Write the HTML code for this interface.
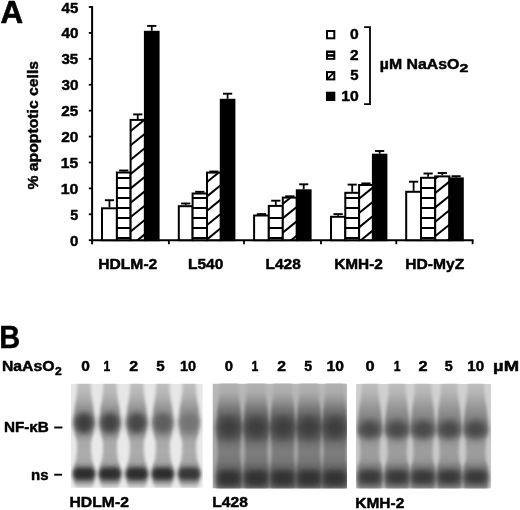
<!DOCTYPE html>
<html><head><meta charset="utf-8"><style>
html,body{margin:0;padding:0;background:#fff;}
body{width:520px;height:510px;overflow:hidden;}
svg{display:block;will-change:transform;}
text{font-family:"Liberation Sans",sans-serif;font-weight:bold;fill:#000;stroke:#000;stroke-width:0.45px;stroke-linejoin:round;}
</style></head><body>
<svg width="520" height="510" viewBox="0 0 520 510">
<defs><clipPath id="c0"><rect x="130.6" y="119.9" width="14.30" height="120.30"/></clipPath><clipPath id="c1"><rect x="207.0" y="172.6" width="13.80" height="67.60"/></clipPath><clipPath id="c2"><rect x="282.8" y="197.6" width="14.00" height="42.60"/></clipPath><clipPath id="c3"><rect x="359.1" y="185.0" width="13.80" height="55.20"/></clipPath><clipPath id="c4"><rect x="435.2" y="176.4" width="14.20" height="63.80"/></clipPath><clipPath id="g0"><rect x="70.7" y="383.8" width="132.10" height="104.00"/></clipPath><linearGradient id="bg0" gradientUnits="userSpaceOnUse" x1="0" y1="383" x2="0" y2="488"><stop offset="0.0000" stop-color="#e6e6e6"/><stop offset="1.0000" stop-color="#eaeaea"/></linearGradient><linearGradient id="sg0" gradientUnits="userSpaceOnUse" x1="0" y1="380" x2="0" y2="494"><stop offset="0.0000" stop-color="#c0c0c0"/><stop offset="0.1053" stop-color="#b8b8b8"/><stop offset="0.1754" stop-color="#aaaaaa"/><stop offset="0.2456" stop-color="#969696"/><stop offset="0.3684" stop-color="#8c8c8c"/><stop offset="0.4737" stop-color="#969696"/><stop offset="0.5439" stop-color="#a8a8a8"/><stop offset="0.6316" stop-color="#acacac"/><stop offset="0.7018" stop-color="#a8a8a8"/><stop offset="0.7544" stop-color="#969696"/><stop offset="0.8947" stop-color="#969696"/><stop offset="0.9474" stop-color="#d7d7d7"/><stop offset="1.0000" stop-color="#eaeaea"/></linearGradient><filter id="f1_80" x="-60%" y="-60%" width="220%" height="220%"><feGaussianBlur stdDeviation="1.8"/></filter><filter id="f3_40" x="-60%" y="-60%" width="220%" height="220%"><feGaussianBlur stdDeviation="3.4"/></filter><filter id="f2_20" x="-60%" y="-60%" width="220%" height="220%"><feGaussianBlur stdDeviation="2.2"/></filter><clipPath id="g1"><rect x="212.5" y="383.6" width="134.50" height="104.80"/></clipPath><linearGradient id="bg1" gradientUnits="userSpaceOnUse" x1="0" y1="383" x2="0" y2="488"><stop offset="0.0000" stop-color="#bababa"/><stop offset="0.3524" stop-color="#b0b0b0"/><stop offset="0.5905" stop-color="#a8a8a8"/><stop offset="0.8286" stop-color="#a5a5a5"/><stop offset="1.0000" stop-color="#afafaf"/></linearGradient><linearGradient id="sg1" gradientUnits="userSpaceOnUse" x1="0" y1="380" x2="0" y2="498"><stop offset="0.0000" stop-color="#b2b2b2"/><stop offset="0.1017" stop-color="#acacac"/><stop offset="0.1695" stop-color="#969696"/><stop offset="0.2373" stop-color="#7a7a7a"/><stop offset="0.3051" stop-color="#666666"/><stop offset="0.4068" stop-color="#606060"/><stop offset="0.4915" stop-color="#646464"/><stop offset="0.5424" stop-color="#747474"/><stop offset="0.6102" stop-color="#7c7c7c"/><stop offset="0.6780" stop-color="#787878"/><stop offset="0.7288" stop-color="#6c6c6c"/><stop offset="0.8983" stop-color="#686868"/><stop offset="0.9492" stop-color="#969696"/><stop offset="1.0000" stop-color="#afafaf"/></linearGradient><filter id="f4_00" x="-60%" y="-60%" width="220%" height="220%"><feGaussianBlur stdDeviation="4.0"/></filter><filter id="f3_00" x="-60%" y="-60%" width="220%" height="220%"><feGaussianBlur stdDeviation="3.0"/></filter><clipPath id="g2"><rect x="356.0" y="383.8" width="135.20" height="104.60"/></clipPath><linearGradient id="bg2" gradientUnits="userSpaceOnUse" x1="0" y1="383" x2="0" y2="488"><stop offset="0.0000" stop-color="#d2d2d2"/><stop offset="0.3524" stop-color="#cccccc"/><stop offset="0.6381" stop-color="#c8c8c8"/><stop offset="1.0000" stop-color="#cdcdcd"/></linearGradient><linearGradient id="sg2" gradientUnits="userSpaceOnUse" x1="0" y1="380" x2="0" y2="498"><stop offset="0.0000" stop-color="#bebebe"/><stop offset="0.1017" stop-color="#b6b6b6"/><stop offset="0.1695" stop-color="#a6a6a6"/><stop offset="0.2542" stop-color="#919191"/><stop offset="0.3390" stop-color="#848484"/><stop offset="0.4407" stop-color="#828282"/><stop offset="0.5085" stop-color="#969696"/><stop offset="0.6102" stop-color="#9e9e9e"/><stop offset="0.6780" stop-color="#989898"/><stop offset="0.7288" stop-color="#848484"/><stop offset="0.8983" stop-color="#808080"/><stop offset="0.9492" stop-color="#aaaaaa"/><stop offset="1.0000" stop-color="#cdcdcd"/></linearGradient><filter id="f3_80" x="-60%" y="-60%" width="220%" height="220%"><feGaussianBlur stdDeviation="3.8"/></filter></defs>
<rect width="520" height="510" fill="#fff"/>
<g clip-path="url(#g0)"><rect x="70.7" y="383.8" width="132.10" height="104.00" fill="url(#bg0)"/><polygon points="77.50,380 77.00,392 76.00,400 74.50,408 74.00,422 75.00,434 77.00,442 77.00,452 76.00,460 74.00,466 74.00,482 76.00,488 77.00,494 91.00,494 92.00,488 94.00,482 94.00,466 92.00,460 91.00,452 91.00,442 93.00,434 94.00,422 93.50,408 92.00,400 91.00,392 90.50,380" fill="url(#sg0)" filter="url(#f1_80)"/><polygon points="103.50,380 103.00,392 102.00,400 100.50,408 100.00,422 101.00,434 103.00,442 103.00,452 102.00,460 100.00,466 100.00,482 102.00,488 103.00,494 117.00,494 118.00,488 120.00,482 120.00,466 118.00,460 117.00,452 117.00,442 119.00,434 120.00,422 119.50,408 118.00,400 117.00,392 116.50,380" fill="url(#sg0)" filter="url(#f1_80)"/><polygon points="130.30,380 129.80,392 128.80,400 127.30,408 126.80,422 127.80,434 129.80,442 129.80,452 128.80,460 126.80,466 126.80,482 128.80,488 129.80,494 143.80,494 144.80,488 146.80,482 146.80,466 144.80,460 143.80,452 143.80,442 145.80,434 146.80,422 146.30,408 144.80,400 143.80,392 143.30,380" fill="url(#sg0)" filter="url(#f1_80)"/><polygon points="156.30,380 155.80,392 154.80,400 153.30,408 152.80,422 153.80,434 155.80,442 155.80,452 154.80,460 152.80,466 152.80,482 154.80,488 155.80,494 169.80,494 170.80,488 172.80,482 172.80,466 170.80,460 169.80,452 169.80,442 171.80,434 172.80,422 172.30,408 170.80,400 169.80,392 169.30,380" fill="url(#sg0)" filter="url(#f1_80)"/><polygon points="182.70,380 182.20,392 181.20,400 179.70,408 179.20,422 180.20,434 182.20,442 182.20,452 181.20,460 179.20,466 179.20,482 181.20,488 182.20,494 196.20,494 197.20,488 199.20,482 199.20,466 197.20,460 196.20,452 196.20,442 198.20,434 199.20,422 198.70,408 197.20,400 196.20,392 195.70,380" fill="url(#sg0)" filter="url(#f1_80)"/><ellipse cx="84.00" cy="423.0" rx="10.0" ry="10.5" fill="#3e3e3e" filter="url(#f3_40)"/><ellipse cx="110.00" cy="423.0" rx="10.0" ry="10.5" fill="#434343" filter="url(#f3_40)"/><ellipse cx="136.80" cy="423.0" rx="10.0" ry="10.5" fill="#464646" filter="url(#f3_40)"/><ellipse cx="162.80" cy="423.0" rx="10.0" ry="10.5" fill="#5d5d5d" filter="url(#f3_40)"/><ellipse cx="189.20" cy="423.0" rx="10.0" ry="10.5" fill="#747474" filter="url(#f3_40)"/><rect x="72.75" y="467.55" width="22.5" height="12.5" rx="5.5" fill="#2e2e2e" filter="url(#f2_20)"/><rect x="98.75" y="467.55" width="22.5" height="12.5" rx="5.5" fill="#2e2e2e" filter="url(#f2_20)"/><rect x="125.55" y="467.55" width="22.5" height="12.5" rx="5.5" fill="#2e2e2e" filter="url(#f2_20)"/><rect x="151.55" y="467.55" width="22.5" height="12.5" rx="5.5" fill="#2e2e2e" filter="url(#f2_20)"/><rect x="177.95" y="467.55" width="22.5" height="12.5" rx="5.5" fill="#373737" filter="url(#f2_20)"/></g><g clip-path="url(#g1)"><rect x="212.5" y="383.6" width="134.50" height="104.80" fill="url(#bg1)"/><polygon points="220.00,380 219.50,392 218.50,400 217.50,408 217.00,416 216.50,428 217.00,438 217.50,444 218.00,452 217.50,460 216.50,466 216.00,486 217.00,492 218.00,498 240.00,498 241.00,492 242.00,486 241.50,466 240.50,460 240.00,452 240.50,444 241.00,438 241.50,428 241.00,416 240.50,408 239.50,400 238.50,392 238.00,380" fill="url(#sg1)" filter="url(#f1_80)"/><polygon points="247.20,380 246.70,392 245.70,400 244.70,408 244.20,416 243.70,428 244.20,438 244.70,444 245.20,452 244.70,460 243.70,466 243.20,486 244.20,492 245.20,498 267.20,498 268.20,492 269.20,486 268.70,466 267.70,460 267.20,452 267.70,444 268.20,438 268.70,428 268.20,416 267.70,408 266.70,400 265.70,392 265.20,380" fill="url(#sg1)" filter="url(#f1_80)"/><polygon points="273.80,380 273.30,392 272.30,400 271.30,408 270.80,416 270.30,428 270.80,438 271.30,444 271.80,452 271.30,460 270.30,466 269.80,486 270.80,492 271.80,498 293.80,498 294.80,492 295.80,486 295.30,466 294.30,460 293.80,452 294.30,444 294.80,438 295.30,428 294.80,416 294.30,408 293.30,400 292.30,392 291.80,380" fill="url(#sg1)" filter="url(#f1_80)"/><polygon points="300.00,380 299.50,392 298.50,400 297.50,408 297.00,416 296.50,428 297.00,438 297.50,444 298.00,452 297.50,460 296.50,466 296.00,486 297.00,492 298.00,498 320.00,498 321.00,492 322.00,486 321.50,466 320.50,460 320.00,452 320.50,444 321.00,438 321.50,428 321.00,416 320.50,408 319.50,400 318.50,392 318.00,380" fill="url(#sg1)" filter="url(#f1_80)"/><polygon points="325.80,380 325.30,392 324.30,400 323.30,408 322.80,416 322.30,428 322.80,438 323.30,444 323.80,452 323.30,460 322.30,466 321.80,486 322.80,492 323.80,498 345.80,498 346.80,492 347.80,486 347.30,466 346.30,460 345.80,452 346.30,444 346.80,438 347.30,428 346.80,416 346.30,408 345.30,400 344.30,392 343.80,380" fill="url(#sg1)" filter="url(#f1_80)"/><ellipse cx="229.00" cy="427.5" rx="11.5" ry="11.0" fill="#3e3e3e" filter="url(#f4_00)"/><ellipse cx="256.20" cy="427.5" rx="11.5" ry="11.0" fill="#3e3e3e" filter="url(#f4_00)"/><ellipse cx="282.80" cy="427.5" rx="11.5" ry="11.0" fill="#3e3e3e" filter="url(#f4_00)"/><ellipse cx="309.00" cy="427.5" rx="11.5" ry="11.0" fill="#3e3e3e" filter="url(#f4_00)"/><ellipse cx="334.80" cy="427.5" rx="11.5" ry="11.0" fill="#3e3e3e" filter="url(#f4_00)"/><rect x="217.00" y="470.00" width="24.0" height="16.0" rx="5.5" fill="#323232" filter="url(#f3_00)"/><rect x="244.20" y="470.00" width="24.0" height="16.0" rx="5.5" fill="#323232" filter="url(#f3_00)"/><rect x="270.80" y="470.00" width="24.0" height="16.0" rx="5.5" fill="#323232" filter="url(#f3_00)"/><rect x="297.00" y="470.00" width="24.0" height="16.0" rx="5.5" fill="#323232" filter="url(#f3_00)"/><rect x="322.80" y="470.00" width="24.0" height="16.0" rx="5.5" fill="#323232" filter="url(#f3_00)"/></g><g clip-path="url(#g2)"><rect x="356.0" y="383.8" width="135.20" height="104.60" fill="url(#bg2)"/><polygon points="361.80,380 361.30,392 360.30,400 358.80,410 357.80,420 358.00,432 359.80,440 360.30,452 359.80,460 357.80,466 357.30,486 358.80,492 359.80,498 379.80,498 380.80,492 382.30,486 381.80,466 379.80,460 379.30,452 379.80,440 381.60,432 381.80,420 380.80,410 379.30,400 378.30,392 377.80,380" fill="url(#sg2)" filter="url(#f1_80)"/><polygon points="389.20,380 388.70,392 387.70,400 386.20,410 385.20,420 385.40,432 387.20,440 387.70,452 387.20,460 385.20,466 384.70,486 386.20,492 387.20,498 407.20,498 408.20,492 409.70,486 409.20,466 407.20,460 406.70,452 407.20,440 409.00,432 409.20,420 408.20,410 406.70,400 405.70,392 405.20,380" fill="url(#sg2)" filter="url(#f1_80)"/><polygon points="415.00,380 414.50,392 413.50,400 412.00,410 411.00,420 411.20,432 413.00,440 413.50,452 413.00,460 411.00,466 410.50,486 412.00,492 413.00,498 433.00,498 434.00,492 435.50,486 435.00,466 433.00,460 432.50,452 433.00,440 434.80,432 435.00,420 434.00,410 432.50,400 431.50,392 431.00,380" fill="url(#sg2)" filter="url(#f1_80)"/><polygon points="441.20,380 440.70,392 439.70,400 438.20,410 437.20,420 437.40,432 439.20,440 439.70,452 439.20,460 437.20,466 436.70,486 438.20,492 439.20,498 459.20,498 460.20,492 461.70,486 461.20,466 459.20,460 458.70,452 459.20,440 461.00,432 461.20,420 460.20,410 458.70,400 457.70,392 457.20,380" fill="url(#sg2)" filter="url(#f1_80)"/><polygon points="467.80,380 467.30,392 466.30,400 464.80,410 463.80,420 464.00,432 465.80,440 466.30,452 465.80,460 463.80,466 463.30,486 464.80,492 465.80,498 485.80,498 486.80,492 488.30,486 487.80,466 485.80,460 485.30,452 485.80,440 487.60,432 487.80,420 486.80,410 485.30,400 484.30,392 483.80,380" fill="url(#sg2)" filter="url(#f1_80)"/><ellipse cx="369.80" cy="429.5" rx="11.5" ry="9.5" fill="#484848" filter="url(#f3_80)"/><ellipse cx="397.20" cy="429.5" rx="11.5" ry="9.5" fill="#484848" filter="url(#f3_80)"/><ellipse cx="423.00" cy="429.5" rx="11.5" ry="9.5" fill="#484848" filter="url(#f3_80)"/><ellipse cx="449.20" cy="429.5" rx="11.5" ry="9.5" fill="#484848" filter="url(#f3_80)"/><ellipse cx="475.80" cy="429.5" rx="11.5" ry="9.5" fill="#484848" filter="url(#f3_80)"/><rect x="357.80" y="469.50" width="24.0" height="15.0" rx="5.5" fill="#383838" filter="url(#f3_00)"/><rect x="385.20" y="469.50" width="24.0" height="15.0" rx="5.5" fill="#383838" filter="url(#f3_00)"/><rect x="411.00" y="469.50" width="24.0" height="15.0" rx="5.5" fill="#383838" filter="url(#f3_00)"/><rect x="437.20" y="469.50" width="24.0" height="15.0" rx="5.5" fill="#383838" filter="url(#f3_00)"/><rect x="463.80" y="469.50" width="24.0" height="15.0" rx="5.5" fill="#383838" filter="url(#f3_00)"/></g>
<line x1="92.1" y1="6.0" x2="92.1" y2="244.3" stroke="#000" stroke-width="2"/><line x1="88.8" y1="240.20" x2="92.1" y2="240.20" stroke="#000" stroke-width="1.8"/><line x1="88.8" y1="214.29" x2="92.1" y2="214.29" stroke="#000" stroke-width="1.8"/><line x1="88.8" y1="188.38" x2="92.1" y2="188.38" stroke="#000" stroke-width="1.8"/><line x1="88.8" y1="162.47" x2="92.1" y2="162.47" stroke="#000" stroke-width="1.8"/><line x1="88.8" y1="136.56" x2="92.1" y2="136.56" stroke="#000" stroke-width="1.8"/><line x1="88.8" y1="110.65" x2="92.1" y2="110.65" stroke="#000" stroke-width="1.8"/><line x1="88.8" y1="84.74" x2="92.1" y2="84.74" stroke="#000" stroke-width="1.8"/><line x1="88.8" y1="58.83" x2="92.1" y2="58.83" stroke="#000" stroke-width="1.8"/><line x1="88.8" y1="32.92" x2="92.1" y2="32.92" stroke="#000" stroke-width="1.8"/><line x1="88.8" y1="7.01" x2="92.1" y2="7.01" stroke="#000" stroke-width="1.8"/><line x1="91.3" y1="240.2" x2="473.6" y2="240.2" stroke="#000" stroke-width="2"/><line x1="168.85" y1="240.2" x2="168.85" y2="244.2" stroke="#000" stroke-width="1.8"/><line x1="244.0" y1="240.2" x2="244.0" y2="244.2" stroke="#000" stroke-width="1.8"/><line x1="321.0" y1="240.2" x2="321.0" y2="244.2" stroke="#000" stroke-width="1.8"/><line x1="396.3" y1="240.2" x2="396.3" y2="244.2" stroke="#000" stroke-width="1.8"/><line x1="472.6" y1="240.2" x2="472.6" y2="244.2" stroke="#000" stroke-width="1.8"/><rect x="102.0" y="208.3" width="14.90" height="31.90" fill="#fff" stroke="#000" stroke-width="2"/><rect x="116.9" y="172.5" width="13.70" height="67.70" fill="#fff" stroke="#000" stroke-width="2"/><line x1="116.9" y1="238.0" x2="130.6" y2="238.0" stroke="#000" stroke-width="2"/><line x1="116.9" y1="228.0" x2="130.6" y2="228.0" stroke="#000" stroke-width="2"/><line x1="116.9" y1="218.0" x2="130.6" y2="218.0" stroke="#000" stroke-width="2"/><line x1="116.9" y1="208.0" x2="130.6" y2="208.0" stroke="#000" stroke-width="2"/><line x1="116.9" y1="198.0" x2="130.6" y2="198.0" stroke="#000" stroke-width="2"/><line x1="116.9" y1="188.0" x2="130.6" y2="188.0" stroke="#000" stroke-width="2"/><line x1="116.9" y1="178.0" x2="130.6" y2="178.0" stroke="#000" stroke-width="2"/><rect x="130.6" y="119.9" width="14.30" height="120.30" fill="#fff"/><g clip-path="url(#c0)" stroke="#000" stroke-width="2"><line x1="127.6" y1="104.73" x2="147.9" y2="88.29"/><line x1="127.6" y1="119.08" x2="147.9" y2="102.64"/><line x1="127.6" y1="133.43" x2="147.9" y2="116.99"/><line x1="127.6" y1="147.78" x2="147.9" y2="131.34"/><line x1="127.6" y1="162.13" x2="147.9" y2="145.69"/><line x1="127.6" y1="176.48" x2="147.9" y2="160.04"/><line x1="127.6" y1="190.83" x2="147.9" y2="174.39"/><line x1="127.6" y1="205.18" x2="147.9" y2="188.74"/><line x1="127.6" y1="219.53" x2="147.9" y2="203.09"/><line x1="127.6" y1="233.88" x2="147.9" y2="217.44"/><line x1="127.6" y1="248.23" x2="147.9" y2="231.79"/></g><rect x="130.6" y="119.9" width="14.30" height="120.30" fill="none" stroke="#000" stroke-width="2"/><rect x="144.9" y="31.8" width="13.70" height="208.40" fill="#000" stroke="#000" stroke-width="2"/><line x1="109.45" y1="207.30" x2="109.45" y2="200.20" stroke="#000" stroke-width="1.8"/><line x1="104.85" y1="200.20" x2="114.05" y2="200.20" stroke="#000" stroke-width="1.9"/><line x1="123.75" y1="171.50" x2="123.75" y2="170.50" stroke="#000" stroke-width="1.8"/><line x1="119.15" y1="170.50" x2="128.35" y2="170.50" stroke="#000" stroke-width="1.9"/><line x1="137.75" y1="118.90" x2="137.75" y2="114.40" stroke="#000" stroke-width="1.8"/><line x1="133.15" y1="114.40" x2="142.35" y2="114.40" stroke="#000" stroke-width="1.9"/><line x1="151.75" y1="30.80" x2="151.75" y2="25.90" stroke="#000" stroke-width="1.8"/><line x1="147.15" y1="25.90" x2="156.35" y2="25.90" stroke="#000" stroke-width="1.9"/><rect x="178.8" y="206.2" width="13.80" height="34.00" fill="#fff" stroke="#000" stroke-width="2"/><rect x="192.6" y="193.5" width="14.40" height="46.70" fill="#fff" stroke="#000" stroke-width="2"/><line x1="192.6" y1="238.0" x2="207.0" y2="238.0" stroke="#000" stroke-width="2"/><line x1="192.6" y1="228.0" x2="207.0" y2="228.0" stroke="#000" stroke-width="2"/><line x1="192.6" y1="218.0" x2="207.0" y2="218.0" stroke="#000" stroke-width="2"/><line x1="192.6" y1="208.0" x2="207.0" y2="208.0" stroke="#000" stroke-width="2"/><line x1="192.6" y1="198.0" x2="207.0" y2="198.0" stroke="#000" stroke-width="2"/><rect x="207.0" y="172.6" width="13.80" height="67.60" fill="#fff"/><g clip-path="url(#c1)" stroke="#000" stroke-width="2"><line x1="204.0" y1="155.73" x2="223.8" y2="139.69"/><line x1="204.0" y1="170.08" x2="223.8" y2="154.04"/><line x1="204.0" y1="184.43" x2="223.8" y2="168.39"/><line x1="204.0" y1="198.78" x2="223.8" y2="182.74"/><line x1="204.0" y1="213.13" x2="223.8" y2="197.09"/><line x1="204.0" y1="227.48" x2="223.8" y2="211.44"/><line x1="204.0" y1="241.83" x2="223.8" y2="225.79"/><line x1="204.0" y1="256.18" x2="223.8" y2="240.14"/></g><rect x="207.0" y="172.6" width="13.80" height="67.60" fill="none" stroke="#000" stroke-width="2"/><rect x="220.8" y="99.8" width="13.60" height="140.40" fill="#000" stroke="#000" stroke-width="2"/><line x1="185.70" y1="205.20" x2="185.70" y2="203.50" stroke="#000" stroke-width="1.8"/><line x1="181.10" y1="203.50" x2="190.30" y2="203.50" stroke="#000" stroke-width="1.9"/><line x1="199.80" y1="192.50" x2="199.80" y2="191.80" stroke="#000" stroke-width="1.8"/><line x1="195.20" y1="191.80" x2="204.40" y2="191.80" stroke="#000" stroke-width="1.9"/><line x1="209.30" y1="171.50" x2="218.50" y2="171.50" stroke="#000" stroke-width="1.9"/><line x1="227.60" y1="98.80" x2="227.60" y2="93.70" stroke="#000" stroke-width="1.8"/><line x1="223.00" y1="93.70" x2="232.20" y2="93.70" stroke="#000" stroke-width="1.9"/><rect x="254.1" y="215.5" width="14.70" height="24.70" fill="#fff" stroke="#000" stroke-width="2"/><rect x="268.8" y="205.9" width="14.00" height="34.30" fill="#fff" stroke="#000" stroke-width="2"/><line x1="268.8" y1="238.0" x2="282.8" y2="238.0" stroke="#000" stroke-width="2"/><line x1="268.8" y1="228.0" x2="282.8" y2="228.0" stroke="#000" stroke-width="2"/><line x1="268.8" y1="218.0" x2="282.8" y2="218.0" stroke="#000" stroke-width="2"/><rect x="282.8" y="197.6" width="14.00" height="42.60" fill="#fff"/><g clip-path="url(#c2)" stroke="#000" stroke-width="2"><line x1="279.8" y1="191.98" x2="299.8" y2="175.78"/><line x1="279.8" y1="206.33" x2="299.8" y2="190.13"/><line x1="279.8" y1="220.68" x2="299.8" y2="204.48"/><line x1="279.8" y1="235.03" x2="299.8" y2="218.83"/><line x1="279.8" y1="249.38" x2="299.8" y2="233.18"/></g><rect x="282.8" y="197.6" width="14.00" height="42.60" fill="none" stroke="#000" stroke-width="2"/><rect x="296.8" y="190.3" width="13.80" height="49.90" fill="#000" stroke="#000" stroke-width="2"/><line x1="256.85" y1="214.10" x2="266.05" y2="214.10" stroke="#000" stroke-width="1.9"/><line x1="275.80" y1="204.90" x2="275.80" y2="200.70" stroke="#000" stroke-width="1.8"/><line x1="271.20" y1="200.70" x2="280.40" y2="200.70" stroke="#000" stroke-width="1.9"/><line x1="285.20" y1="196.30" x2="294.40" y2="196.30" stroke="#000" stroke-width="1.9"/><line x1="303.70" y1="189.30" x2="303.70" y2="184.30" stroke="#000" stroke-width="1.8"/><line x1="299.10" y1="184.30" x2="308.30" y2="184.30" stroke="#000" stroke-width="1.9"/><rect x="331.0" y="216.8" width="14.30" height="23.40" fill="#fff" stroke="#000" stroke-width="2"/><rect x="345.3" y="192.8" width="13.80" height="47.40" fill="#fff" stroke="#000" stroke-width="2"/><line x1="345.3" y1="238.0" x2="359.1" y2="238.0" stroke="#000" stroke-width="2"/><line x1="345.3" y1="228.0" x2="359.1" y2="228.0" stroke="#000" stroke-width="2"/><line x1="345.3" y1="218.0" x2="359.1" y2="218.0" stroke="#000" stroke-width="2"/><line x1="345.3" y1="208.0" x2="359.1" y2="208.0" stroke="#000" stroke-width="2"/><line x1="345.3" y1="198.0" x2="359.1" y2="198.0" stroke="#000" stroke-width="2"/><rect x="359.1" y="185.0" width="13.80" height="55.20" fill="#fff"/><g clip-path="url(#c3)" stroke="#000" stroke-width="2"><line x1="356.1" y1="172.33" x2="375.9" y2="156.29"/><line x1="356.1" y1="186.68" x2="375.9" y2="170.64"/><line x1="356.1" y1="201.03" x2="375.9" y2="184.99"/><line x1="356.1" y1="215.38" x2="375.9" y2="199.34"/><line x1="356.1" y1="229.73" x2="375.9" y2="213.69"/><line x1="356.1" y1="244.08" x2="375.9" y2="228.04"/><line x1="356.1" y1="258.43" x2="375.9" y2="242.39"/></g><rect x="359.1" y="185.0" width="13.80" height="55.20" fill="none" stroke="#000" stroke-width="2"/><rect x="372.9" y="154.7" width="13.50" height="85.50" fill="#000" stroke="#000" stroke-width="2"/><line x1="338.15" y1="215.80" x2="338.15" y2="214.10" stroke="#000" stroke-width="1.8"/><line x1="333.55" y1="214.10" x2="342.75" y2="214.10" stroke="#000" stroke-width="1.9"/><line x1="352.20" y1="191.80" x2="352.20" y2="184.60" stroke="#000" stroke-width="1.8"/><line x1="347.60" y1="184.60" x2="356.80" y2="184.60" stroke="#000" stroke-width="1.9"/><line x1="366.00" y1="184.00" x2="366.00" y2="183.40" stroke="#000" stroke-width="1.8"/><line x1="361.40" y1="183.40" x2="370.60" y2="183.40" stroke="#000" stroke-width="1.9"/><line x1="379.65" y1="153.70" x2="379.65" y2="151.00" stroke="#000" stroke-width="1.8"/><line x1="375.05" y1="151.00" x2="384.25" y2="151.00" stroke="#000" stroke-width="1.9"/><rect x="406.2" y="191.8" width="14.80" height="48.40" fill="#fff" stroke="#000" stroke-width="2"/><rect x="421.0" y="177.8" width="14.20" height="62.40" fill="#fff" stroke="#000" stroke-width="2"/><line x1="421.0" y1="238.0" x2="435.2" y2="238.0" stroke="#000" stroke-width="2"/><line x1="421.0" y1="228.0" x2="435.2" y2="228.0" stroke="#000" stroke-width="2"/><line x1="421.0" y1="218.0" x2="435.2" y2="218.0" stroke="#000" stroke-width="2"/><line x1="421.0" y1="208.0" x2="435.2" y2="208.0" stroke="#000" stroke-width="2"/><line x1="421.0" y1="198.0" x2="435.2" y2="198.0" stroke="#000" stroke-width="2"/><line x1="421.0" y1="188.0" x2="435.2" y2="188.0" stroke="#000" stroke-width="2"/><rect x="435.2" y="176.4" width="14.20" height="63.80" fill="#fff"/><g clip-path="url(#c4)" stroke="#000" stroke-width="2"><line x1="432.2" y1="166.83" x2="452.4" y2="150.47"/><line x1="432.2" y1="181.18" x2="452.4" y2="164.82"/><line x1="432.2" y1="195.53" x2="452.4" y2="179.17"/><line x1="432.2" y1="209.88" x2="452.4" y2="193.52"/><line x1="432.2" y1="224.23" x2="452.4" y2="207.87"/><line x1="432.2" y1="238.58" x2="452.4" y2="222.22"/><line x1="432.2" y1="252.93" x2="452.4" y2="236.57"/></g><rect x="435.2" y="176.4" width="14.20" height="63.80" fill="none" stroke="#000" stroke-width="2"/><rect x="449.4" y="178.4" width="13.40" height="61.80" fill="#000" stroke="#000" stroke-width="2"/><line x1="413.60" y1="190.80" x2="413.60" y2="181.70" stroke="#000" stroke-width="1.8"/><line x1="409.00" y1="181.70" x2="418.20" y2="181.70" stroke="#000" stroke-width="1.9"/><line x1="428.10" y1="176.80" x2="428.10" y2="173.50" stroke="#000" stroke-width="1.8"/><line x1="423.50" y1="173.50" x2="432.70" y2="173.50" stroke="#000" stroke-width="1.9"/><line x1="442.30" y1="175.40" x2="442.30" y2="173.00" stroke="#000" stroke-width="1.8"/><line x1="437.70" y1="173.00" x2="446.90" y2="173.00" stroke="#000" stroke-width="1.9"/><line x1="456.10" y1="177.40" x2="456.10" y2="176.20" stroke="#000" stroke-width="1.8"/><line x1="451.50" y1="176.20" x2="460.70" y2="176.20" stroke="#000" stroke-width="1.9"/><rect x="327.0" y="31.0" width="7.300000000000001" height="7.300000000000001" fill="#fff" stroke="#000" stroke-width="2"/><rect x="326.0" y="50.5" width="9.3" height="9.3" fill="#000"/><rect x="328.0" y="53.0" width="5.300000000000001" height="1.2" fill="#fff"/><rect x="328.0" y="56.8" width="5.300000000000001" height="1.2" fill="#fff"/><rect x="327.0" y="72.1" width="7.300000000000001" height="7.300000000000001" fill="#fff" stroke="#000" stroke-width="2"/><line x1="327.5" y1="78.89999999999999" x2="333.8" y2="72.6" stroke="#000" stroke-width="1.8"/><rect x="326.0" y="91.7" width="9.3" height="9.3" fill="#000"/><polyline points="364.1,27.1 370.0,27.1 370.0,104.2 364.1,104.2" fill="none" stroke="#000" stroke-width="1.8"/><line x1="54.2" y1="427.5" x2="62.4" y2="427.5" stroke="#000" stroke-width="1.9"/><line x1="54.2" y1="474.7" x2="62.0" y2="474.7" stroke="#000" stroke-width="1.9"/>
<g><text x="70.08" y="245.72" font-size="15.04" textLength="8.36" lengthAdjust="spacingAndGlyphs">0</text><text x="70.23" y="219.81" font-size="15.26" textLength="7.99" lengthAdjust="spacingAndGlyphs">5</text><text x="60.77" y="193.90" font-size="15.04" textLength="17.71" lengthAdjust="spacingAndGlyphs">10</text><text x="60.79" y="167.99" font-size="15.26" textLength="17.48" lengthAdjust="spacingAndGlyphs">15</text><text x="61.24" y="142.08" font-size="15.04" textLength="17.22" lengthAdjust="spacingAndGlyphs">20</text><text x="61.24" y="116.17" font-size="15.04" textLength="17.01" lengthAdjust="spacingAndGlyphs">25</text><text x="61.42" y="90.26" font-size="15.04" textLength="17.03" lengthAdjust="spacingAndGlyphs">30</text><text x="61.43" y="64.35" font-size="15.04" textLength="16.82" lengthAdjust="spacingAndGlyphs">35</text><text x="61.54" y="38.44" font-size="15.04" textLength="16.90" lengthAdjust="spacingAndGlyphs">40</text><text x="61.55" y="12.53" font-size="15.26" textLength="16.69" lengthAdjust="spacingAndGlyphs">45</text><g transform="rotate(-90)"><text x="-189.57" y="37.62" font-size="14.21" textLength="128.69" lengthAdjust="spacingAndGlyphs">% apoptotic cells</text></g><text x="98.28" y="268.82" font-size="14.32" textLength="59.02" lengthAdjust="spacingAndGlyphs">HDLM-2</text><text x="187.99" y="268.82" font-size="14.32" textLength="35.32" lengthAdjust="spacingAndGlyphs">L540</text><text x="265.49" y="268.82" font-size="14.32" textLength="35.26" lengthAdjust="spacingAndGlyphs">L428</text><text x="334.20" y="268.82" font-size="14.32" textLength="48.69" lengthAdjust="spacingAndGlyphs">KMH-2</text><text x="405.28" y="268.82" font-size="14.54" textLength="58.94" lengthAdjust="spacingAndGlyphs">HD-MyZ</text><text x="350.01" y="39.23" font-size="14.61" textLength="8.71" lengthAdjust="spacingAndGlyphs">0</text><text x="350.09" y="59.73" font-size="14.61" textLength="8.61" lengthAdjust="spacingAndGlyphs">2</text><text x="350.16" y="80.32" font-size="14.83" textLength="8.33" lengthAdjust="spacingAndGlyphs">5</text><text x="341.23" y="100.92" font-size="14.61" textLength="17.48" lengthAdjust="spacingAndGlyphs">10</text><text x="379.89" y="68.83" font-size="13.75" textLength="79.45" lengthAdjust="spacingAndGlyphs">µM NaAsO</text><text x="459.57" y="72.33" font-size="10.60" textLength="8.84" lengthAdjust="spacingAndGlyphs">2</text><text x="0.47" y="23.30" font-size="31.61" textLength="22.60" lengthAdjust="spacingAndGlyphs" style="stroke-width:0.7px">A</text><text x="-0.74" y="347.55" font-size="30.89" textLength="20.96" lengthAdjust="spacingAndGlyphs" style="stroke-width:0.4px">B</text><text x="1.97" y="370.88" font-size="13.96" textLength="52.57" lengthAdjust="spacingAndGlyphs">NaAsO</text><text x="55.10" y="374.88" font-size="11.60" textLength="6.76" lengthAdjust="spacingAndGlyphs">2</text><text x="81.21" y="371.12" font-size="14.04" textLength="8.60" lengthAdjust="spacingAndGlyphs">0</text><text x="103.46" y="371.12" font-size="14.24" textLength="6.75" lengthAdjust="spacingAndGlyphs">1</text><text x="129.17" y="371.12" font-size="14.04" textLength="8.84" lengthAdjust="spacingAndGlyphs">2</text><text x="156.26" y="371.12" font-size="14.24" textLength="8.44" lengthAdjust="spacingAndGlyphs">5</text><text x="180.02" y="371.12" font-size="14.04" textLength="16.05" lengthAdjust="spacingAndGlyphs">10</text><text x="224.74" y="371.12" font-size="14.04" textLength="8.24" lengthAdjust="spacingAndGlyphs">0</text><text x="251.45" y="371.12" font-size="14.24" textLength="6.87" lengthAdjust="spacingAndGlyphs">1</text><text x="277.28" y="371.12" font-size="14.04" textLength="8.72" lengthAdjust="spacingAndGlyphs">2</text><text x="304.29" y="371.12" font-size="14.24" textLength="7.88" lengthAdjust="spacingAndGlyphs">5</text><text x="326.54" y="371.12" font-size="14.04" textLength="17.37" lengthAdjust="spacingAndGlyphs">10</text><text x="365.58" y="371.12" font-size="14.04" textLength="9.06" lengthAdjust="spacingAndGlyphs">0</text><text x="393.76" y="371.12" font-size="14.24" textLength="6.75" lengthAdjust="spacingAndGlyphs">1</text><text x="418.56" y="371.12" font-size="14.04" textLength="9.07" lengthAdjust="spacingAndGlyphs">2</text><text x="444.88" y="371.12" font-size="14.24" textLength="7.99" lengthAdjust="spacingAndGlyphs">5</text><text x="467.27" y="371.12" font-size="14.04" textLength="16.82" lengthAdjust="spacingAndGlyphs">10</text><text x="493.12" y="371.12" font-size="14.24" textLength="25.99" lengthAdjust="spacingAndGlyphs">µM</text><text x="3.90" y="431.52" font-size="15.12" textLength="45.02" lengthAdjust="spacingAndGlyphs">NF-κB</text><text x="31.04" y="479.62" font-size="15.04" textLength="17.45" lengthAdjust="spacingAndGlyphs">ns</text><text x="69.47" y="507.32" font-size="15.18" textLength="59.43" lengthAdjust="spacingAndGlyphs">HDLM-2</text><text x="212.28" y="507.43" font-size="14.61" textLength="35.57" lengthAdjust="spacingAndGlyphs">L428</text><text x="355.29" y="507.62" font-size="15.18" textLength="49.00" lengthAdjust="spacingAndGlyphs">KMH-2</text></g>
</svg>
</body></html>
